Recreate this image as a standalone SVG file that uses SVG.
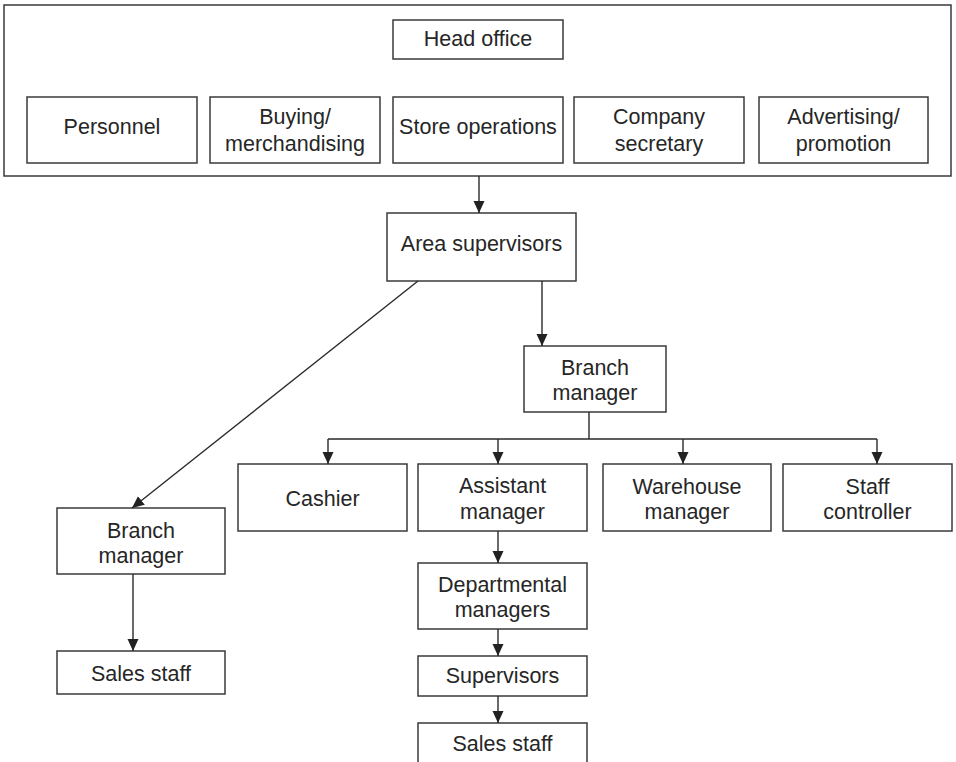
<svg xmlns="http://www.w3.org/2000/svg" width="956" height="762" viewBox="0 0 956 762">
  <style>
    .box { fill: #ffffff; stroke: #3a3a3a; stroke-width: 1.5; }
    .frame { fill: none; stroke: #3a3a3a; stroke-width: 1.5; }
    .lbl { font-family: "Liberation Sans", Arial, Helvetica, sans-serif; font-size: 21.5px; fill: #262626; text-anchor: middle; }
    .link { fill: none; stroke: #2a2a2a; stroke-width: 1.4; }
    .arrow { marker-end: url(#head); }
  </style>
  <defs>
    <marker id="head" markerUnits="userSpaceOnUse" markerWidth="12" markerHeight="14" viewBox="0 0 12 14" refX="12" refY="7" orient="auto">
      <path d="M0,1.5 L12,7 L0,12.5 Z" fill="#222222"/>
    </marker>
  </defs>

  <rect width="956" height="762" fill="#ffffff"/>

  <!-- Head office frame and departments -->
  <g id="head-office-group">
    <rect class="frame" x="4" y="5" width="947" height="171"/>
  </g>
  <g id="head-office">
    <rect class="box" x="393" y="20" width="170" height="39"/>
    <text class="lbl" x="478" y="46">Head office</text>
  </g>
  <g id="personnel">
    <rect class="box" x="27" y="97" width="170" height="66"/>
    <text class="lbl" x="112" y="134">Personnel</text>
  </g>
  <g id="buying">
    <rect class="box" x="210" y="97" width="170" height="66"/>
    <text class="lbl" x="295" y="124">Buying/</text>
    <text class="lbl" x="295" y="151">merchandising</text>
  </g>
  <g id="store-operations">
    <rect class="box" x="393" y="97" width="170" height="66"/>
    <text class="lbl" x="478" y="134">Store operations</text>
  </g>
  <g id="company-secretary">
    <rect class="box" x="574" y="97" width="170" height="66"/>
    <text class="lbl" x="659" y="124">Company</text>
    <text class="lbl" x="659" y="151">secretary</text>
  </g>
  <g id="advertising">
    <rect class="box" x="759" y="97" width="169" height="66"/>
    <text class="lbl" x="843.5" y="124">Advertising/</text>
    <text class="lbl" x="843.5" y="151">promotion</text>
  </g>

  <!-- Area level -->
  <g id="area-supervisors">
    <rect class="box" x="387" y="213" width="189" height="68"/>
    <text class="lbl" x="481.5" y="251">Area supervisors</text>
  </g>

  <!-- Large branch -->
  <g id="branch-manager-large">
    <rect class="box" x="524" y="346" width="142" height="66"/>
    <text class="lbl" x="595" y="375">Branch</text>
    <text class="lbl" x="595" y="400">manager</text>
  </g>
  <g id="cashier">
    <rect class="box" x="238" y="464" width="169" height="67"/>
    <text class="lbl" x="322.5" y="506">Cashier</text>
  </g>
  <g id="assistant-manager">
    <rect class="box" x="418" y="464" width="169" height="67"/>
    <text class="lbl" x="502.5" y="493">Assistant</text>
    <text class="lbl" x="502.5" y="519">manager</text>
  </g>
  <g id="warehouse-manager">
    <rect class="box" x="603" y="464" width="168" height="67"/>
    <text class="lbl" x="687" y="494">Warehouse</text>
    <text class="lbl" x="687" y="519">manager</text>
  </g>
  <g id="staff-controller">
    <rect class="box" x="783" y="464" width="169" height="67"/>
    <text class="lbl" x="867.5" y="494">Staff</text>
    <text class="lbl" x="867.5" y="519">controller</text>
  </g>
  <g id="departmental-managers">
    <rect class="box" x="418" y="563" width="169" height="66"/>
    <text class="lbl" x="502.5" y="592">Departmental</text>
    <text class="lbl" x="502.5" y="617">managers</text>
  </g>
  <g id="supervisors">
    <rect class="box" x="418" y="656" width="169" height="40"/>
    <text class="lbl" x="502.5" y="683">Supervisors</text>
  </g>
  <g id="sales-staff-large">
    <rect class="box" x="418" y="723" width="169" height="50"/>
    <text class="lbl" x="502.5" y="751">Sales staff</text>
  </g>

  <!-- Small branch -->
  <g id="branch-manager-small">
    <rect class="box" x="57" y="508" width="168" height="66"/>
    <text class="lbl" x="141" y="538">Branch</text>
    <text class="lbl" x="141" y="563">manager</text>
  </g>
  <g id="sales-staff-small">
    <rect class="box" x="57" y="651" width="168" height="43"/>
    <text class="lbl" x="141" y="681">Sales staff</text>
  </g>

  <!-- Connectors -->
  <g id="connectors">
    <line class="link arrow" x1="479" y1="176" x2="479" y2="213"/>
    <line class="link arrow" x1="542" y1="281" x2="542" y2="346"/>
    <line class="link arrow" x1="418" y1="281" x2="132" y2="508"/>
    <line class="link arrow" x1="133" y1="574" x2="133" y2="651"/>
    <path class="link" d="M589,412 V439 M328,439 H877"/>
    <line class="link arrow" x1="328" y1="439" x2="328" y2="464"/>
    <line class="link arrow" x1="498" y1="439" x2="498" y2="464"/>
    <line class="link arrow" x1="683" y1="439" x2="683" y2="464"/>
    <line class="link arrow" x1="877" y1="439" x2="877" y2="464"/>
    <line class="link arrow" x1="498" y1="531" x2="498" y2="563"/>
    <line class="link arrow" x1="498" y1="629" x2="498" y2="656"/>
    <line class="link arrow" x1="498" y1="696" x2="498" y2="723"/>
  </g>
</svg>
